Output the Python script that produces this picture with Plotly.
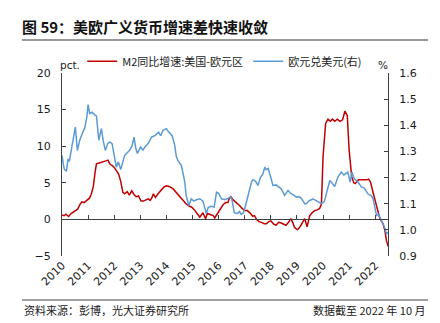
import plotly.graph_objects as go

# ---- data ----
year_ticks = [2010, 2011, 2012, 2013, 2014, 2015, 2016, 2017, 2018, 2019, 2020, 2021, 2022]
year_labels = [str(y) for y in year_ticks]

m2_years = [2010.0, 2010.08, 2010.15, 2010.25, 2010.35, 2010.5, 2010.6, 2010.68, 2010.76, 2010.85,
            2010.95, 2011.05, 2011.12, 2011.2, 2011.27, 2011.32, 2011.42, 2011.55, 2011.68, 2011.76,
            2011.83, 2011.9, 2011.98, 2012.08, 2012.17, 2012.25, 2012.33, 2012.4, 2012.5, 2012.58,
            2012.67, 2012.76, 2012.84, 2012.93, 2013.03, 2013.12, 2013.2, 2013.3, 2013.38, 2013.45,
            2013.5, 2013.58, 2013.68, 2013.8, 2013.9, 2014.0, 2014.1, 2014.25, 2014.38, 2014.5,
            2014.63, 2014.76, 2014.88, 2014.96, 2015.05, 2015.15, 2015.22, 2015.28, 2015.35, 2015.4,
            2015.5, 2015.57, 2015.65, 2015.72, 2015.8, 2015.85, 2015.92, 2015.98, 2016.08, 2016.17,
            2016.27, 2016.36, 2016.4, 2016.47, 2016.55, 2016.65, 2016.8, 2016.9, 2017.0, 2017.1,
            2017.2, 2017.3, 2017.38, 2017.45, 2017.55, 2017.64, 2017.75, 2017.83, 2017.92, 2018.0,
            2018.1, 2018.2, 2018.3, 2018.4, 2018.5, 2018.58, 2018.68, 2018.77, 2018.85, 2018.9,
            2018.97, 2019.03, 2019.12, 2019.2, 2019.3, 2019.39, 2019.49, 2019.58, 2019.68, 2019.78,
            2019.87, 2019.94, 2020.0, 2020.1, 2020.19, 2020.28, 2020.36, 2020.45, 2020.55, 2020.65,
            2020.75, 2020.84, 2020.93, 2021.0, 2021.1, 2021.18, 2021.23, 2021.36, 2021.5, 2021.6,
            2021.68, 2021.75, 2021.82, 2021.93, 2022.05, 2022.12, 2022.18, 2022.3, 2022.37, 2022.43,
            2022.5]
m2_diff = [0.6, 0.5, 0.7, 0.4, 0.8, 1.1, 1.4, 2.0, 2.4, 2.3,
           2.6, 2.9, 3.4, 4.5, 6.5, 7.6, 7.7, 7.9, 8.0, 8.1,
           7.6, 7.4, 7.2, 6.7, 6.2, 5.2, 3.7, 3.5, 3.8, 3.3,
           3.9, 3.4, 3.1, 3.2, 2.5, 2.5, 2.6, 2.8, 2.6, 3.0,
           3.5, 3.0, 3.5, 4.0, 4.4, 4.6, 4.5, 4.2, 3.7, 3.1,
           2.6, 2.1, 1.8, 1.7, 1.4, 1.0, 0.6, 0.3, 0.7, 0.9,
           0.1, 0.8, 0.7, 0.6, 0.5, 0.2, 0.6, 1.0, 1.6, 2.0,
           2.3, 2.3, 2.8, 3.1, 2.7, 2.4, 1.9, 1.5, 1.2, 1.2,
           0.9, 0.45, 0.5, 0.0, -0.3, -0.4, -0.6, -0.6, -0.3, -0.2,
           -0.6, -0.8, -0.4, -0.5, -0.7, -0.8, -0.4, 0.1, -0.5, -1.05,
           -1.3, -1.4, -1.0, -0.5, 0.1, -1.0, 0.5, 0.9, 1.2, 1.3,
           1.5, 2.1, 8.5, 13.1, 13.7, 13.4, 13.7, 13.4, 13.7, 13.4,
           13.6, 14.8, 14.2, 9.5, 5.8, 5.0, 4.9, 5.4, 5.4, 5.3,
           5.4, 5.5, 5.1, 3.5, 1.7, 0.8, 0.1, -0.6, -1.5, -2.9,
           -3.7]

eur_years = [2010.0, 2010.04, 2010.08, 2010.17, 2010.23, 2010.28, 2010.36, 2010.42, 2010.51, 2010.59,
             2010.68, 2010.8, 2010.87, 2010.95, 2011.0, 2011.06, 2011.15, 2011.25, 2011.32, 2011.41,
             2011.51, 2011.58, 2011.66, 2011.75, 2011.83, 2011.92, 2012.0, 2012.08, 2012.16, 2012.25,
             2012.33, 2012.4, 2012.5, 2012.59, 2012.68, 2012.76, 2012.83, 2012.89, 2013.01, 2013.1,
             2013.2, 2013.3, 2013.43, 2013.55, 2013.7, 2013.78, 2013.87, 2014.0, 2014.08, 2014.13,
             2014.22, 2014.32, 2014.38, 2014.44, 2014.57, 2014.65, 2014.7, 2014.76, 2014.86, 2014.95,
             2015.05, 2015.15, 2015.28, 2015.4, 2015.53, 2015.6, 2015.7, 2015.83, 2015.92, 2016.0,
             2016.11, 2016.25, 2016.36, 2016.45, 2016.5, 2016.6, 2016.72, 2016.8, 2016.87, 2016.95,
             2017.0, 2017.13, 2017.26, 2017.32, 2017.42, 2017.51, 2017.6, 2017.7, 2017.77, 2017.82,
             2017.9, 2018.0, 2018.08, 2018.2, 2018.3, 2018.4, 2018.53, 2018.6, 2018.66, 2018.75,
             2018.85, 2018.98, 2019.05, 2019.15, 2019.3, 2019.36, 2019.45, 2019.55, 2019.62, 2019.72,
             2019.85, 2019.94, 2020.05, 2020.13, 2020.26, 2020.35, 2020.45, 2020.57, 2020.7, 2020.8,
             2020.88, 2020.95, 2021.04, 2021.11, 2021.2, 2021.34, 2021.47, 2021.58, 2021.72, 2021.85,
             2021.92, 2021.98, 2022.05, 2022.12, 2022.24, 2022.36, 2022.43, 2022.5]
eur_usd = [1.285, 1.26, 1.234, 1.224, 1.272, 1.262, 1.304, 1.349, 1.393, 1.304,
           1.343, 1.374, 1.39, 1.43, 1.479, 1.445, 1.45, 1.44, 1.436, 1.343,
           1.387, 1.34, 1.304, 1.33, 1.336, 1.33, 1.29, 1.24, 1.26, 1.231,
           1.26, 1.285, 1.295, 1.304, 1.32, 1.355, 1.31, 1.292, 1.317, 1.305,
           1.32, 1.33, 1.355, 1.36, 1.374, 1.36, 1.381, 1.387, 1.375, 1.368,
           1.36, 1.323, 1.28, 1.266, 1.247, 1.21, 1.185, 1.13, 1.093, 1.119,
           1.11, 1.115, 1.119, 1.11, 1.062, 1.085, 1.09, 1.087, 1.144, 1.14,
           1.119, 1.115, 1.12, 1.125, 1.121, 1.066, 1.062, 1.07, 1.059, 1.065,
           1.081, 1.13, 1.183, 1.192, 1.185, 1.17, 1.2, 1.215, 1.24, 1.23,
           1.235, 1.2, 1.17, 1.172, 1.165, 1.157, 1.132, 1.145, 1.151, 1.14,
           1.135, 1.125, 1.127, 1.123, 1.1, 1.1, 1.11, 1.115, 1.119, 1.113,
           1.105, 1.1, 1.108, 1.138, 1.189, 1.178, 1.166, 1.202, 1.221, 1.21,
           1.215, 1.221, 1.183, 1.221, 1.195, 1.183, 1.164, 1.16, 1.138, 1.13,
           1.119, 1.093, 1.055, 1.06, 1.036, 1.01, 0.985, 0.99]

RED = "#C00000"
BLUE = "#5B9BD5"
CJK = "Noto Sans CJK SC"
NUM = "DejaVu Sans"
TXT = "#1a1a1a"

fig = go.Figure()
fig.add_trace(go.Scatter(x=m2_years, y=m2_diff, mode="lines", name="M2同比增速:美国-欧元区",
                         line=dict(color=RED, width=1.5), xaxis="x", yaxis="y"))
fig.add_trace(go.Scatter(x=eur_years, y=eur_usd, mode="lines", name="欧元兑美元(右)",
                         line=dict(color=BLUE, width=1.5), xaxis="x2", yaxis="y2"))

xr = [2010, 2022.49]
fig.update_layout(
    width=440, height=323,
    margin=dict(l=62, r=52, t=73, b=67, autoexpand=False),
    paper_bgcolor="white", plot_bgcolor="white",
    font=dict(family=CJK, size=11, color=TXT),
    showlegend=True,
    legend=dict(orientation="h", x=0.062, y=1.064, xanchor="left", yanchor="middle",
                font=dict(family=CJK, size=11, color=TXT),
                bgcolor="rgba(0,0,0,0)", borderwidth=0, itemwidth=30),
    title=dict(text="<b>图 59：美欧广义货币增速差快速收敛</b>", x=22/440, y=1-28/323,
               xanchor="left", yanchor="middle", xref="container", yref="container",
               font=dict(family=CJK, size=15, color="#111111")),
    xaxis=dict(range=xr, tickvals=year_ticks, ticktext=year_labels, tickangle=-45,
               showline=False, ticks="", showgrid=False, zeroline=False,
               tickfont=dict(family=NUM, size=11, color=TXT)),
    xaxis2=dict(range=xr, overlaying="x", anchor="free", position=0.2, side="bottom",
                showline=True, linecolor="#404040", linewidth=1, ticks="inside", ticklen=4,
                tickcolor="#404040", tickvals=year_ticks, showticklabels=False,
                showgrid=False, zeroline=False),
    yaxis=dict(range=[-5, 20], dtick=5, tick0=0, showline=True, linecolor="#404040", linewidth=1,
               ticks="inside", ticklen=4, tickcolor="#404040", showgrid=False, zeroline=False,
               ticklabelstandoff=8,
               tickfont=dict(family=NUM, size=11, color=TXT)),
    yaxis2=dict(range=[0.9, 1.6], dtick=0.1, tick0=0.9, tickformat=".1f", overlaying="y",
                side="right", anchor="x2", showline=True, linecolor="#404040", linewidth=1,
                ticks="inside", ticklen=4, tickcolor="#404040", showgrid=False, zeroline=False,
                ticklabelstandoff=8,
                tickfont=dict(family=NUM, size=11, color=TXT)),
)

fig.add_annotation(text="pct.", xref="paper", yref="paper", x=0, y=1, xanchor="left",
                   yanchor="bottom", xshift=-4, yshift=0, showarrow=False,
                   font=dict(family=NUM, size=10.5, color=TXT))
fig.add_annotation(text="%", xref="paper", yref="paper", x=1, y=1, xanchor="right",
                   yanchor="bottom", xshift=2, yshift=0, showarrow=False,
                   font=dict(family=NUM, size=10.5, color=TXT))

# header / footer rules and text
W = 326.0
H = 183.0
def px_x(p):
    return (p - 62) / W
def px_y(p):
    return (255.5 - p) / H

fig.add_shape(type="line", xref="paper", yref="paper", x0=px_x(22), x1=px_x(428),
              y0=px_y(39.5), y1=px_y(39.5), line=dict(color="#333333", width=1.2))
fig.add_shape(type="line", xref="paper", yref="paper", x0=px_x(22), x1=px_x(428),
              y0=px_y(299.5), y1=px_y(299.5), line=dict(color="#808080", width=1.5))
fig.add_annotation(text="资料来源：彭博，光大证券研究所", xref="paper", yref="paper",
                   x=px_x(22), y=px_y(309), xanchor="left", yanchor="middle", showarrow=False,
                   font=dict(family=CJK, size=11, color=TXT))
fig.add_annotation(text="数据截至 2022 年 10 月", xref="paper", yref="paper",
                   x=px_x(428), y=px_y(309), xanchor="right", yanchor="middle", showarrow=False,
                   font=dict(family=CJK, size=11, color=TXT))

fig.write_html("out.html")
